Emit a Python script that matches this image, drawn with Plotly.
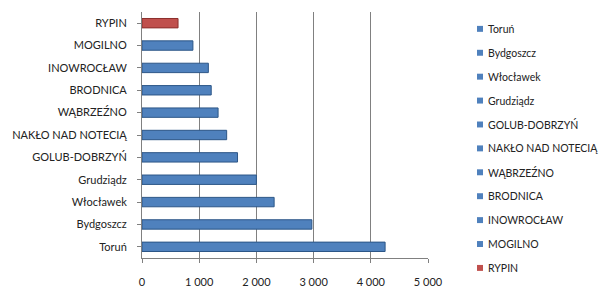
import plotly.graph_objects as go

cities = ["Toruń", "Bydgoszcz", "Włocławek", "Grudziądz", "GOLUB-DOBRZYŃ",
          "NAKŁO NAD NOTECIĄ", "WĄBRZEŹNO", "BRODNICA", "INOWROCŁAW", "MOGILNO", "RYPIN"]
values = [4250, 2970, 2310, 2000, 1670, 1480, 1330, 1210, 1160, 890, 630]
colors = ["#4f81bd"] * 10 + ["#c0504d"]
edge_colors = ["#2c5687"] * 10 + ["#8c2f2c"]
x_tickvals = [0, 1000, 2000, 3000, 4000, 5000]
x_ticktext = ["0", "1 000", "2 000", "3 000", "4 000", "5 000"]

FONT = "Lato, 'Open Sans', sans-serif"
W, H = 606, 300
ML, MR, MT, MB = 142, 178, 12, 40
PW, PH = W - ML - MR, H - MT - MB

fig = go.Figure()
for i, (c, v) in enumerate(zip(cities, values)):
    fig.add_trace(go.Bar(
        x=[v], y=[c], orientation="h", name=c, showlegend=False,
        marker=dict(color=colors[i], line=dict(color=edge_colors[i], width=1)),
        width=0.42,
    ))

# legend drawn beside the plot (entries from the same lists)
def px_x(p):
    return (p - ML) / PW

def px_y(p):
    return 1 - (p - MT) / PH

shapes, annotations = [], []
for i, c in enumerate(cities):
    yc = 29 + 24.1 * i
    shapes.append(dict(type="rect", xref="paper", yref="paper",
                       x0=px_x(477), x1=px_x(483), y0=px_y(yc + 3), y1=px_y(yc - 3),
                       fillcolor=colors[i], line=dict(width=0)))
    annotations.append(dict(xref="paper", yref="paper", x=px_x(486), y=px_y(yc),
                            xanchor="left", yanchor="middle", showarrow=False, text=c,
                            font=dict(family=FONT, size=10.5, color="#222222")))

fig.update_layout(
    width=W, height=H,
    margin=dict(l=ML, r=MR, t=MT, b=MB),
    paper_bgcolor="white", plot_bgcolor="white",
    barmode="overlay",
    font=dict(family=FONT, size=11, color="#222222"),
    showlegend=False,
    shapes=shapes, annotations=annotations,
    xaxis=dict(
        range=[0, 5000], tickvals=x_tickvals, ticktext=x_ticktext,
        showgrid=True, gridcolor="#808080", gridwidth=1,
        showline=True, linecolor="#808080", ticks="outside", ticklen=4,
        tickcolor="#808080", zeroline=False, ticklabelstandoff=10,
    ),
    yaxis=dict(
        categoryorder="array", categoryarray=cities,
        showline=True, linecolor="#808080", ticks="outside", ticklen=4,
        tickcolor="#808080", showgrid=False, ticklabelstandoff=8,
    ),
)

fig.write_html("out.html")
